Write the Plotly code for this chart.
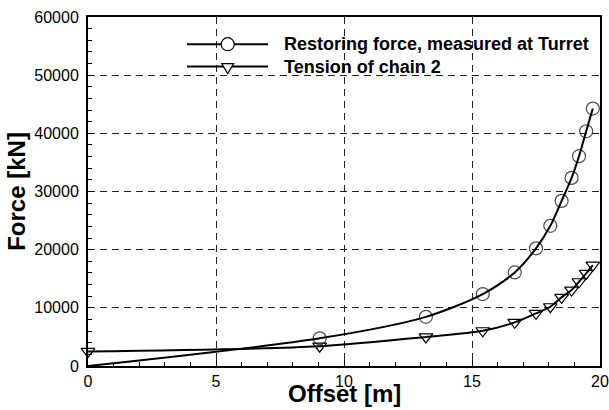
import plotly.graph_objects as go

# Offset positions [m] shared by both measurement series
offset_m = [0, 9.05, 13.2, 15.42, 16.67, 17.5, 18.06, 18.5, 18.89, 19.18, 19.46, 19.72]

# Restoring force measured at the turret [kN]
restoring_kn = [0, 4760, 8450, 12370, 16090, 20220, 24100, 28390, 32340, 36070, 40360, 44260]

# Tension of chain 2 [kN]
tension_kn = [2500, 3400, 5000, 6060, 7500, 9050, 10190, 11800, 13050, 14480, 15920, 17350]

series_names = ["Restoring force, measured at Turret", "Tension of chain 2"]
x_title = "Offset [m]"
y_title = "Force [kN]"

FONT = "Arial, Liberation Sans, sans-serif"
TITLE_FONT = dict(family=FONT, size=24, color="black", weight="bold")

fig = go.Figure()

# no circle is drawn at the origin point
circle_sizes = [0] + [13] * (len(offset_m) - 1)

fig.add_trace(go.Scatter(
    x=offset_m, y=restoring_kn, name=series_names[0],
    mode="lines+markers",
    line=dict(color="black", width=2, shape="spline", smoothing=0.8),
    marker=dict(symbol="circle-open", size=circle_sizes, color="black",
                line=dict(width=1.2, color="black")),
    showlegend=False, cliponaxis=False,
))
fig.add_trace(go.Scatter(
    x=offset_m, y=tension_kn, name=series_names[1],
    mode="lines+markers",
    line=dict(color="black", width=2, shape="spline", smoothing=0.8),
    marker=dict(symbol="triangle-down-open", size=12, color="black",
                line=dict(width=1.2, color="black")),
    showlegend=False, cliponaxis=False,
))

# Legend drawn as layout shapes and annotations inside the plot area
legend_rows = [0.922, 0.858]
line_x0, line_x1, mark_x, text_x = 0.1934, 0.3516, 0.2729, 0.379
shapes = []
annotations = []
for i, yy in enumerate(legend_rows):
    shapes.append(dict(type="line", xref="paper", yref="paper",
                       x0=line_x0, x1=line_x1, y0=yy, y1=yy,
                       line=dict(color="black", width=2)))
    annotations.append(dict(xref="paper", yref="paper", x=text_x, y=yy,
                            xanchor="left", yanchor="middle", showarrow=False,
                            text=series_names[i],
                            font=dict(family=FONT, size=18, color="black", weight="bold")))
# circle symbol
shapes.append(dict(type="circle", xref="paper", yref="paper",
                   xsizemode="pixel", ysizemode="pixel",
                   xanchor=mark_x, yanchor=legend_rows[0],
                   x0=-6.5, x1=6.5, y0=-6.5, y1=6.5,
                   fillcolor="white", line=dict(color="black", width=1.2)))
# downward triangle symbol
shapes.append(dict(type="path", xref="paper", yref="paper",
                   xsizemode="pixel", ysizemode="pixel",
                   xanchor=mark_x, yanchor=legend_rows[1],
                   path="M-6,3 L6,3 L0,-7 Z",
                   fillcolor="white", line=dict(color="black", width=1.2)))

# Axis titles placed as annotations
annotations.append(dict(xref="paper", yref="paper", x=0.5, y=-0.078,
                        xanchor="center", yanchor="middle", showarrow=False,
                        text=x_title, font=TITLE_FONT))
annotations.append(dict(xref="paper", yref="paper", x=-0.14, y=0.5,
                        xanchor="center", yanchor="middle", showarrow=False,
                        textangle=-90, text=y_title, font=TITLE_FONT))

axis_common = dict(
    showline=True, linecolor="black", linewidth=2, mirror=True,
    ticks="inside", ticklen=6, tickwidth=1, tickcolor="black",
    showgrid=True, gridcolor="#222222", gridwidth=1, griddash="7px,5px",
    zeroline=False, ticklabeloverflow="allow",
    tickfont=dict(family=FONT, size=16, color="black"),
)

fig.update_xaxes(
    range=[0, 20.0001], dtick=5, tick0=0,
    minor=dict(dtick=1, ticks="inside", ticklen=4, tickcolor="black", showgrid=False),
    ticklabelstandoff=0,
    **axis_common,
)
fig.update_yaxes(
    range=[0, 60000.01], dtick=10000, tick0=0, tickformat="d",
    minor=dict(dtick=2000, ticks="inside", ticklen=4, tickcolor="black", showgrid=False),
    ticklabelstandoff=4,
    **axis_common,
)

fig.update_layout(
    width=609, height=410,
    margin=dict(l=88, r=9, t=17, b=44, autoexpand=False),
    paper_bgcolor="white", plot_bgcolor="white",
    shapes=shapes, annotations=annotations,
    font=dict(family=FONT, color="black"),
)

fig.write_html("out.html")
